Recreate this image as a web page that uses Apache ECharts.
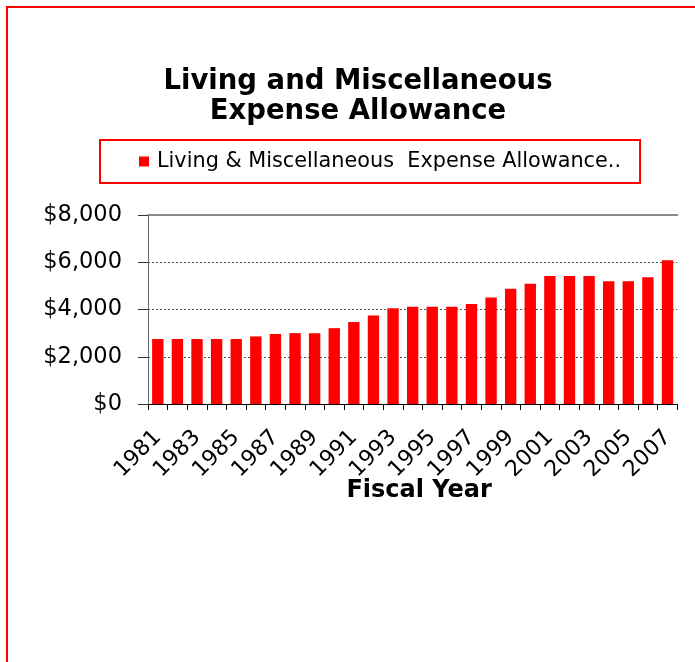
<!DOCTYPE html>
<html>
<head>
<meta charset="utf-8">
<script src="https://cdn.jsdelivr.net/npm/echarts@6/dist/echarts.min.js"></script>
<style>
  html, body { margin: 0; padding: 0; background: #fff; }
  #chart { width: 695px; height: 662px; }
</style>
</head>
<body>
<div id="chart"></div>
<script>
var titleText = 'Living and Miscellaneous\nExpense Allowance';
var seriesName = 'Living & Miscellaneous  Expense Allowance..';
var xAxisName = 'Fiscal Year';
var years = ['1981','1982','1983','1984','1985','1986','1987','1988','1989','1990',
             '1991','1992','1993','1994','1995','1996','1997','1998','1999','2000',
             '2001','2002','2003','2004','2005','2006','2007'];
var allowance = [2750, 2750, 2750, 2750, 2750, 2860, 2960, 3000, 3000, 3210,
                 3470, 3750, 4050, 4120, 4120, 4120, 4230, 4510, 4880, 5090,
                 5420, 5420, 5420, 5200, 5200, 5360, 6080];
var yMin = 0, yMax = 8000, yStep = 2000;

var FONT = 'DejaVu Sans';
function money(v) {
  return '$' + String(v).replace(/\B(?=(\d{3})+(?!\d))/g, ',');
}

var chart = echarts.init(document.getElementById('chart'), null, { renderer: 'canvas' });
chart.setOption({
  backgroundColor: '#ffffff',
  animation: false,
  graphic: [{
    type: 'rect',
    shape: { x: 7, y: 7, width: 720, height: 720 },
    style: { fill: 'none', stroke: '#ff0000', lineWidth: 2 },
    silent: true
  }],
  title: {
    text: titleText,
    left: 358,
    top: 67,
    textAlign: 'center',
    padding: 0,
    textStyle: {
      fontFamily: FONT, fontWeight: 'bold', fontSize: 27.5, lineHeight: 30, color: '#000'
    }
  },
  legend: {
    left: 100,
    top: 140,
    padding: [11, 19, 11, 39],
    borderColor: '#ff0000',
    borderWidth: 2,
    itemWidth: 10,
    itemHeight: 10,
    icon: 'rect',
    textStyle: { fontFamily: FONT, fontSize: 20.8, color: '#000', padding: [0, 0, 0, 3] },
    data: [seriesName]
  },
  grid: { left: 148, top: 215, right: 17.7, bottom: 258, containLabel: false },
  xAxis: [{
    type: 'category',
    data: years,
    position: 'bottom',
    axisLine: { lineStyle: { color: '#000', width: 1 } },
    axisTick: { show: true, alignWithLabel: false, interval: 0, length: 6, lineStyle: { color: '#000' } },
    axisLabel: {
      interval: 1, rotate: 45, margin: 30,
      fontFamily: FONT, fontSize: 22, color: '#000'
    },
    name: xAxisName,
    nameLocation: 'middle',
    nameGap: 75,
    nameMoveOverlap: false,
    nameTextStyle: { fontFamily: FONT, fontWeight: 'bold', fontSize: 24, color: '#000', padding: [0, 0, 0, 13] }
  }, {
    type: 'category',
    data: years,
    position: 'top',
    axisLine: { show: true, lineStyle: { color: '#888', width: 2 } },
    axisTick: { show: false },
    axisLabel: { show: false }
  }],
  yAxis: {
    type: 'value',
    min: yMin, max: yMax, interval: yStep,
    axisLine: { show: true, lineStyle: { color: '#666', width: 1 } },
    axisTick: { show: true, length: 10, lineStyle: { color: '#333' } },
    axisLabel: {
      margin: 26, fontFamily: FONT, fontSize: 22.5, color: '#000',
      formatter: money
    },
    splitLine: { show: true, lineStyle: { color: '#555', type: [2, 2], width: 1 } }
  },
  series: [{
    name: seriesName,
    type: 'bar',
    xAxisIndex: 0,
    data: allowance,
    barCategoryGap: '42%',
    itemStyle: { color: '#ff0000' }
  }]
});
</script>
</body>
</html>
